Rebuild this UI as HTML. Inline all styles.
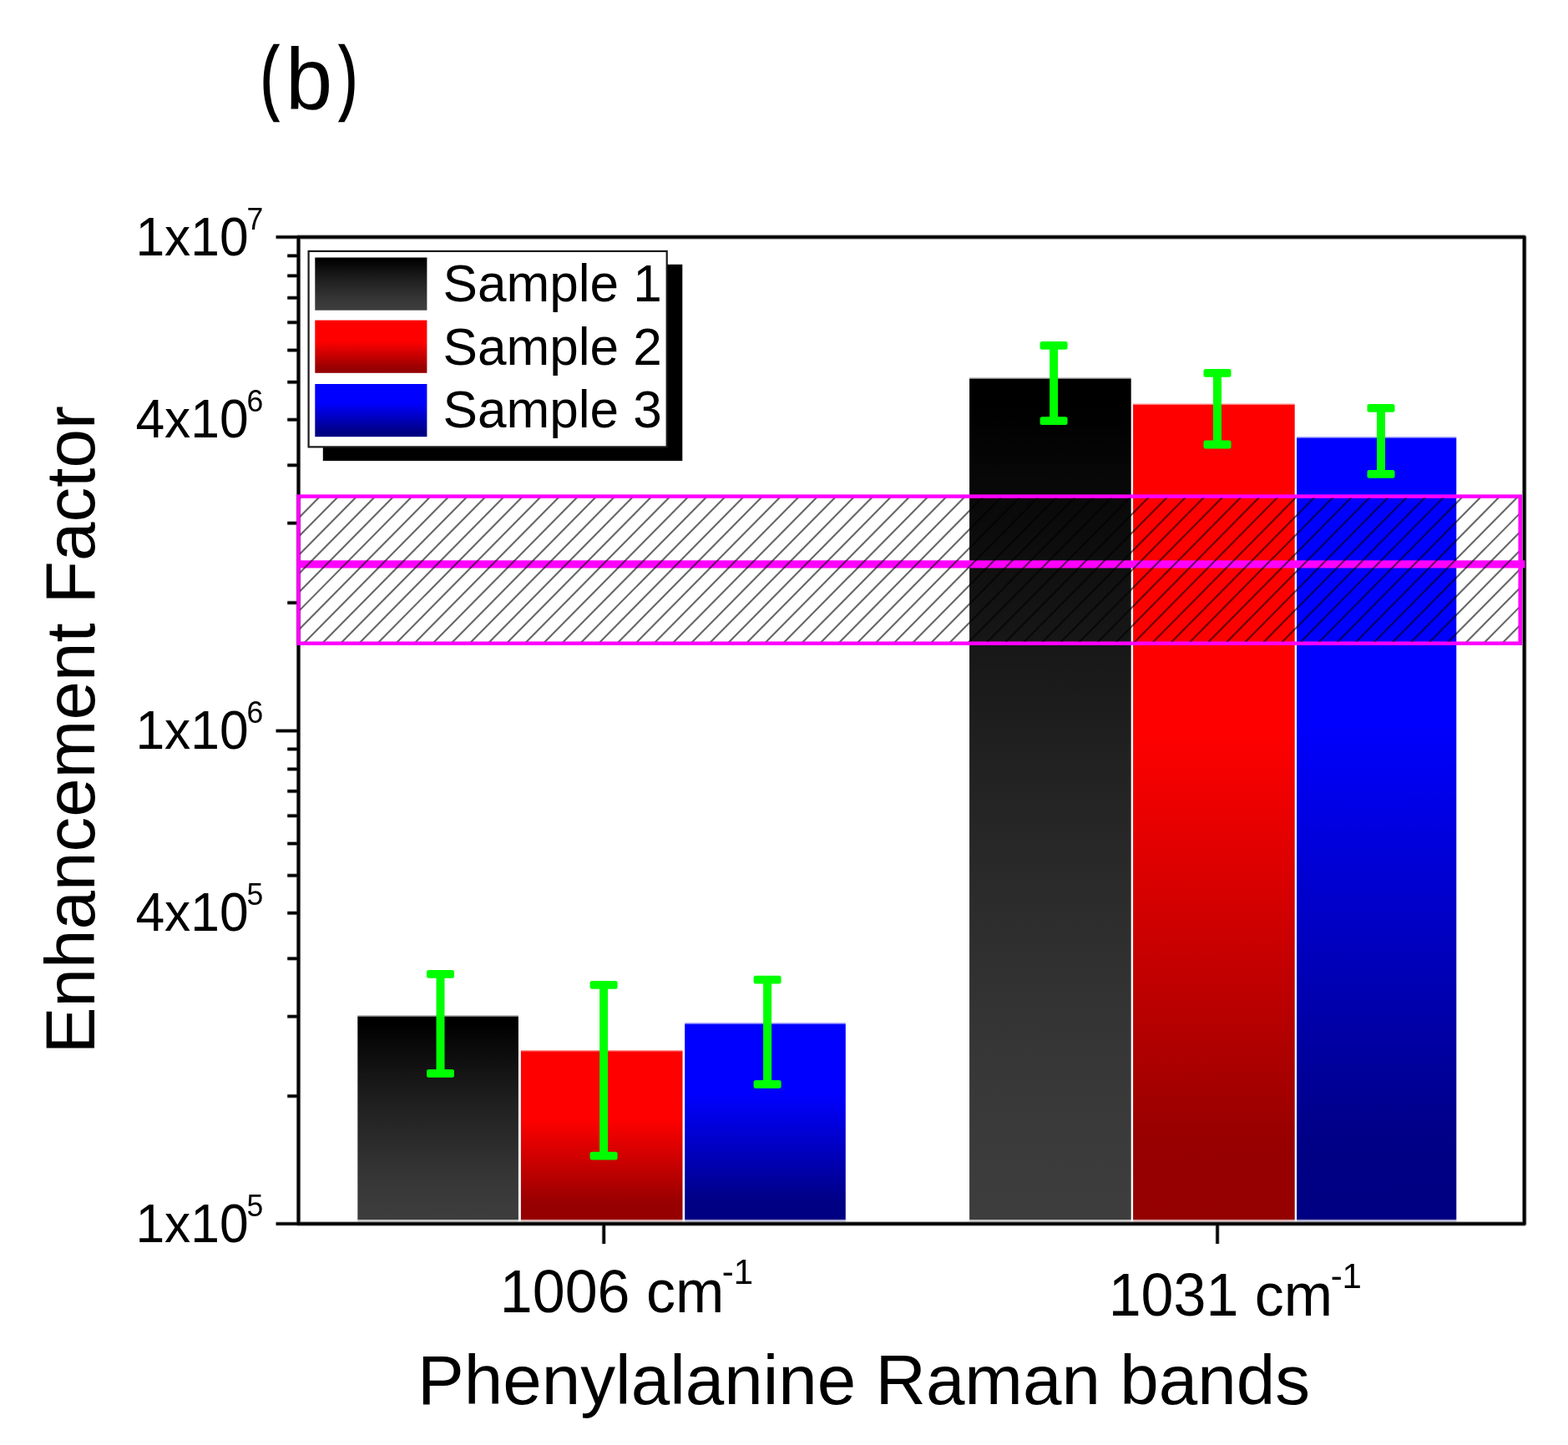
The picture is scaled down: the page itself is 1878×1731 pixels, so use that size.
<!DOCTYPE html>
<html lang="en"><head><meta charset="utf-8"><title>Enhancement Factor - Phenylalanine Raman bands</title>
<style>html,body{margin:0;padding:0;background:#fff;}body{width:1878px;height:1731px;overflow:hidden;}svg{display:block;}text{font-family:"Liberation Sans",Arial,Helvetica,sans-serif;fill:#000;}</style>
</head><body>
<svg width="1878" height="1731" viewBox="0 0 1878 1731">
<defs>
<linearGradient id="gk" x1="0" y1="0" x2="0" y2="1"><stop offset="0.000" stop-color="#000000"/><stop offset="0.035" stop-color="#000000"/><stop offset="0.115" stop-color="#070707"/><stop offset="0.196" stop-color="#0d0d0d"/><stop offset="0.276" stop-color="#141414"/><stop offset="0.357" stop-color="#1a1a1a"/><stop offset="0.437" stop-color="#202020"/><stop offset="0.517" stop-color="#252525"/><stop offset="0.598" stop-color="#2a2a2a"/><stop offset="0.678" stop-color="#2f2f2f"/><stop offset="0.759" stop-color="#343434"/><stop offset="0.839" stop-color="#383838"/><stop offset="0.920" stop-color="#3b3b3b"/><stop offset="1.000" stop-color="#3d3d3d"/></linearGradient>
<linearGradient id="gr" x1="0" y1="0" x2="0" y2="1"><stop offset="0" stop-color="#ff0000"/><stop offset="0.40" stop-color="#ff0000"/><stop offset="0.9" stop-color="#980000"/><stop offset="1" stop-color="#950000"/></linearGradient>
<linearGradient id="gb" x1="0" y1="0" x2="0" y2="1"><stop offset="0" stop-color="#0000ff"/><stop offset="0.36" stop-color="#0000ff"/><stop offset="0.9" stop-color="#000086"/><stop offset="1" stop-color="#000082"/></linearGradient>
<clipPath id="hc"><rect x="359.5" y="596.6" width="1459.2" height="172.1"/></clipPath>
</defs>
<rect x="0" y="0" width="1878" height="1731" fill="#fff"/>
<g id="bars">
<rect x="428.3" y="1217.7" width="192.6" height="243.3" fill="url(#gk)"/>
<rect x="428.3" y="1216.4" width="192.6" height="1.3" fill="#000" fill-opacity="0.45"/>
<rect x="428.3" y="1461.0" width="192.6" height="2.4" fill="#3d3d3d" fill-opacity="0.3"/>
<rect x="623.9" y="1259.3" width="193.6" height="201.7" fill="url(#gr)"/>
<rect x="623.9" y="1258.0" width="193.6" height="1.3" fill="#ff0000" fill-opacity="0.45"/>
<rect x="623.9" y="1461.0" width="193.6" height="2.4" fill="#950000" fill-opacity="0.3"/>
<rect x="820.2" y="1226.6" width="192.6" height="234.4" fill="url(#gb)"/>
<rect x="820.2" y="1225.3" width="192.6" height="1.3" fill="#0000ff" fill-opacity="0.45"/>
<rect x="820.2" y="1461.0" width="192.6" height="2.4" fill="#000082" fill-opacity="0.3"/>
<rect x="1161.1" y="453.8" width="193.6" height="1007.2" fill="url(#gk)"/>
<rect x="1161.1" y="452.5" width="193.6" height="1.3" fill="#000" fill-opacity="0.45"/>
<rect x="1161.1" y="1461.0" width="193.6" height="2.4" fill="#3d3d3d" fill-opacity="0.3"/>
<rect x="1357.1" y="484.8" width="193.6" height="976.2" fill="url(#gr)"/>
<rect x="1357.1" y="483.5" width="193.6" height="1.3" fill="#ff0000" fill-opacity="0.45"/>
<rect x="1357.1" y="1461.0" width="193.6" height="2.4" fill="#950000" fill-opacity="0.3"/>
<rect x="1553.1" y="524.6" width="191.2" height="936.4" fill="url(#gb)"/>
<rect x="1553.1" y="523.3" width="191.2" height="1.3" fill="#0000ff" fill-opacity="0.45"/>
<rect x="1553.1" y="1461.0" width="191.2" height="2.4" fill="#000082" fill-opacity="0.3"/>
</g>
<g id="errorbars" fill="#00ff00">
<rect x="522.5" y="1166.9" width="10" height="119.0"/>
<rect x="511.0" y="1162.0" width="33" height="9.8" rx="2.5"/>
<rect x="511.0" y="1281.0" width="33" height="9.8" rx="2.5"/>
<rect x="718.1" y="1179.9" width="10" height="204.8"/>
<rect x="706.6" y="1175.0" width="33" height="9.8" rx="2.5"/>
<rect x="706.6" y="1379.8" width="33" height="9.8" rx="2.5"/>
<rect x="914.1" y="1173.7" width="10" height="125.1"/>
<rect x="902.6" y="1168.8" width="33" height="9.8" rx="2.5"/>
<rect x="902.6" y="1293.9" width="33" height="9.8" rx="2.5"/>
<rect x="1257.1" y="413.9" width="10" height="90.2"/>
<rect x="1245.6" y="409.0" width="33" height="9.8" rx="2.5"/>
<rect x="1245.6" y="499.2" width="33" height="9.8" rx="2.5"/>
<rect x="1453.0" y="446.9" width="10" height="85.6"/>
<rect x="1441.5" y="442.0" width="33" height="9.8" rx="2.5"/>
<rect x="1441.5" y="527.6" width="33" height="9.8" rx="2.5"/>
<rect x="1649.0" y="488.8" width="10" height="79.1"/>
<rect x="1637.5" y="483.9" width="33" height="9.8" rx="2.5"/>
<rect x="1637.5" y="563.0" width="33" height="9.8" rx="2.5"/>
</g>
<g id="axes-soft" stroke="#777" stroke-opacity="0.8" stroke-width="4.8" fill="none">
<rect x="357.5" y="284.0" width="1468.2" height="1182.0" stroke-linejoin="round" stroke-width="5.4"/>
<line x1="330.6" y1="1466.00" x2="357.5" y2="1466.00"/>
<line x1="344.3" y1="1313.05" x2="357.5" y2="1313.05"/>
<line x1="344.3" y1="1217.69" x2="357.5" y2="1217.69"/>
<line x1="344.3" y1="1148.31" x2="357.5" y2="1148.31"/>
<line x1="344.3" y1="1093.75" x2="357.5" y2="1093.75"/>
<line x1="344.3" y1="1048.78" x2="357.5" y2="1048.78"/>
<line x1="344.3" y1="1010.53" x2="357.5" y2="1010.53"/>
<line x1="344.3" y1="977.25" x2="357.5" y2="977.25"/>
<line x1="344.3" y1="947.79" x2="357.5" y2="947.79"/>
<line x1="344.3" y1="921.36" x2="357.5" y2="921.36"/>
<line x1="344.3" y1="897.41" x2="357.5" y2="897.41"/>
<line x1="330.6" y1="875.50" x2="357.5" y2="875.50"/>
<line x1="344.3" y1="722.05" x2="357.5" y2="722.05"/>
<line x1="344.3" y1="626.69" x2="357.5" y2="626.69"/>
<line x1="344.3" y1="557.31" x2="357.5" y2="557.31"/>
<line x1="344.3" y1="502.75" x2="357.5" y2="502.75"/>
<line x1="344.3" y1="457.78" x2="357.5" y2="457.78"/>
<line x1="344.3" y1="419.53" x2="357.5" y2="419.53"/>
<line x1="344.3" y1="386.25" x2="357.5" y2="386.25"/>
<line x1="344.3" y1="356.79" x2="357.5" y2="356.79"/>
<line x1="344.3" y1="330.36" x2="357.5" y2="330.36"/>
<line x1="344.3" y1="306.41" x2="357.5" y2="306.41"/>
<line x1="330.6" y1="284.00" x2="357.5" y2="284.00"/>
<line x1="723.2" y1="1466.0" x2="723.2" y2="1490.0"/>
<line x1="1458.1" y1="1466.0" x2="1458.1" y2="1490.0"/>
</g>
<g id="axes" stroke="#000" stroke-width="3.2" fill="none">
<rect x="357.5" y="284.0" width="1468.2" height="1182.0" stroke-linejoin="round" stroke-width="3.6"/>
<line x1="330.6" y1="1466.00" x2="357.5" y2="1466.00"/>
<line x1="344.3" y1="1313.05" x2="357.5" y2="1313.05"/>
<line x1="344.3" y1="1217.69" x2="357.5" y2="1217.69"/>
<line x1="344.3" y1="1148.31" x2="357.5" y2="1148.31"/>
<line x1="344.3" y1="1093.75" x2="357.5" y2="1093.75"/>
<line x1="344.3" y1="1048.78" x2="357.5" y2="1048.78"/>
<line x1="344.3" y1="1010.53" x2="357.5" y2="1010.53"/>
<line x1="344.3" y1="977.25" x2="357.5" y2="977.25"/>
<line x1="344.3" y1="947.79" x2="357.5" y2="947.79"/>
<line x1="344.3" y1="921.36" x2="357.5" y2="921.36"/>
<line x1="344.3" y1="897.41" x2="357.5" y2="897.41"/>
<line x1="330.6" y1="875.50" x2="357.5" y2="875.50"/>
<line x1="344.3" y1="722.05" x2="357.5" y2="722.05"/>
<line x1="344.3" y1="626.69" x2="357.5" y2="626.69"/>
<line x1="344.3" y1="557.31" x2="357.5" y2="557.31"/>
<line x1="344.3" y1="502.75" x2="357.5" y2="502.75"/>
<line x1="344.3" y1="457.78" x2="357.5" y2="457.78"/>
<line x1="344.3" y1="419.53" x2="357.5" y2="419.53"/>
<line x1="344.3" y1="386.25" x2="357.5" y2="386.25"/>
<line x1="344.3" y1="356.79" x2="357.5" y2="356.79"/>
<line x1="344.3" y1="330.36" x2="357.5" y2="330.36"/>
<line x1="344.3" y1="306.41" x2="357.5" y2="306.41"/>
<line x1="330.6" y1="284.00" x2="357.5" y2="284.00"/>
<line x1="723.2" y1="1466.0" x2="723.2" y2="1490.0"/>
<line x1="1458.1" y1="1466.0" x2="1458.1" y2="1490.0"/>
</g>
<g id="band">
<rect x="357.5" y="594.6" width="1463.2" height="176.1" fill="none" stroke="#ff00ff" stroke-width="4.5"/>
<rect x="355.5" y="671.3" width="1471.0" height="9.2" fill="#ff00ff"/>
<g clip-path="url(#hc)" stroke="#000" stroke-width="2.1" stroke-opacity="0.6" fill="none">
<line x1="98.85" y1="770.7" x2="272.84" y2="594.6"/>
<line x1="120.93" y1="770.7" x2="294.92" y2="594.6"/>
<line x1="143.01" y1="770.7" x2="317.00" y2="594.6"/>
<line x1="165.09" y1="770.7" x2="339.08" y2="594.6"/>
<line x1="187.17" y1="770.7" x2="361.16" y2="594.6"/>
<line x1="209.25" y1="770.7" x2="383.24" y2="594.6"/>
<line x1="231.33" y1="770.7" x2="405.32" y2="594.6"/>
<line x1="253.41" y1="770.7" x2="427.40" y2="594.6"/>
<line x1="275.49" y1="770.7" x2="449.48" y2="594.6"/>
<line x1="297.57" y1="770.7" x2="471.56" y2="594.6"/>
<line x1="319.65" y1="770.7" x2="493.64" y2="594.6"/>
<line x1="341.73" y1="770.7" x2="515.72" y2="594.6"/>
<line x1="363.81" y1="770.7" x2="537.80" y2="594.6"/>
<line x1="385.89" y1="770.7" x2="559.88" y2="594.6"/>
<line x1="407.97" y1="770.7" x2="581.96" y2="594.6"/>
<line x1="430.05" y1="770.7" x2="604.04" y2="594.6"/>
<line x1="452.13" y1="770.7" x2="626.12" y2="594.6"/>
<line x1="474.21" y1="770.7" x2="648.20" y2="594.6"/>
<line x1="496.29" y1="770.7" x2="670.28" y2="594.6"/>
<line x1="518.37" y1="770.7" x2="692.36" y2="594.6"/>
<line x1="540.45" y1="770.7" x2="714.44" y2="594.6"/>
<line x1="562.53" y1="770.7" x2="736.52" y2="594.6"/>
<line x1="584.61" y1="770.7" x2="758.60" y2="594.6"/>
<line x1="606.69" y1="770.7" x2="780.68" y2="594.6"/>
<line x1="628.77" y1="770.7" x2="802.76" y2="594.6"/>
<line x1="650.85" y1="770.7" x2="824.84" y2="594.6"/>
<line x1="672.93" y1="770.7" x2="846.92" y2="594.6"/>
<line x1="695.01" y1="770.7" x2="869.00" y2="594.6"/>
<line x1="717.09" y1="770.7" x2="891.08" y2="594.6"/>
<line x1="739.17" y1="770.7" x2="913.16" y2="594.6"/>
<line x1="761.25" y1="770.7" x2="935.24" y2="594.6"/>
<line x1="783.33" y1="770.7" x2="957.32" y2="594.6"/>
<line x1="805.41" y1="770.7" x2="979.40" y2="594.6"/>
<line x1="827.49" y1="770.7" x2="1001.48" y2="594.6"/>
<line x1="849.57" y1="770.7" x2="1023.56" y2="594.6"/>
<line x1="871.65" y1="770.7" x2="1045.64" y2="594.6"/>
<line x1="893.73" y1="770.7" x2="1067.72" y2="594.6"/>
<line x1="915.81" y1="770.7" x2="1089.80" y2="594.6"/>
<line x1="937.89" y1="770.7" x2="1111.88" y2="594.6"/>
<line x1="959.97" y1="770.7" x2="1133.96" y2="594.6"/>
<line x1="982.05" y1="770.7" x2="1156.04" y2="594.6"/>
<line x1="1004.13" y1="770.7" x2="1178.12" y2="594.6"/>
<line x1="1026.21" y1="770.7" x2="1200.20" y2="594.6"/>
<line x1="1048.29" y1="770.7" x2="1222.28" y2="594.6"/>
<line x1="1070.37" y1="770.7" x2="1244.36" y2="594.6"/>
<line x1="1092.45" y1="770.7" x2="1266.44" y2="594.6"/>
<line x1="1114.53" y1="770.7" x2="1288.52" y2="594.6"/>
<line x1="1136.61" y1="770.7" x2="1310.60" y2="594.6"/>
<line x1="1158.69" y1="770.7" x2="1332.68" y2="594.6"/>
<line x1="1180.77" y1="770.7" x2="1354.76" y2="594.6"/>
<line x1="1202.85" y1="770.7" x2="1376.84" y2="594.6"/>
<line x1="1224.93" y1="770.7" x2="1398.92" y2="594.6"/>
<line x1="1247.01" y1="770.7" x2="1421.00" y2="594.6"/>
<line x1="1269.09" y1="770.7" x2="1443.08" y2="594.6"/>
<line x1="1291.17" y1="770.7" x2="1465.16" y2="594.6"/>
<line x1="1313.25" y1="770.7" x2="1487.24" y2="594.6"/>
<line x1="1335.33" y1="770.7" x2="1509.32" y2="594.6"/>
<line x1="1357.41" y1="770.7" x2="1531.40" y2="594.6"/>
<line x1="1379.49" y1="770.7" x2="1553.48" y2="594.6"/>
<line x1="1401.57" y1="770.7" x2="1575.56" y2="594.6"/>
<line x1="1423.65" y1="770.7" x2="1597.64" y2="594.6"/>
<line x1="1445.73" y1="770.7" x2="1619.72" y2="594.6"/>
<line x1="1467.81" y1="770.7" x2="1641.80" y2="594.6"/>
<line x1="1489.89" y1="770.7" x2="1663.88" y2="594.6"/>
<line x1="1511.97" y1="770.7" x2="1685.96" y2="594.6"/>
<line x1="1534.05" y1="770.7" x2="1708.04" y2="594.6"/>
<line x1="1556.13" y1="770.7" x2="1730.12" y2="594.6"/>
<line x1="1578.21" y1="770.7" x2="1752.20" y2="594.6"/>
<line x1="1600.29" y1="770.7" x2="1774.28" y2="594.6"/>
<line x1="1622.37" y1="770.7" x2="1796.36" y2="594.6"/>
<line x1="1644.45" y1="770.7" x2="1818.44" y2="594.6"/>
<line x1="1666.53" y1="770.7" x2="1840.52" y2="594.6"/>
<line x1="1688.61" y1="770.7" x2="1862.60" y2="594.6"/>
<line x1="1710.69" y1="770.7" x2="1884.68" y2="594.6"/>
<line x1="1732.77" y1="770.7" x2="1906.76" y2="594.6"/>
<line x1="1754.85" y1="770.7" x2="1928.84" y2="594.6"/>
<line x1="1776.93" y1="770.7" x2="1950.92" y2="594.6"/>
<line x1="1799.01" y1="770.7" x2="1973.00" y2="594.6"/>
<line x1="1821.09" y1="770.7" x2="1995.08" y2="594.6"/>
</g>
</g>
<g id="ylabels" font-size="62.4">
<text transform="translate(162.4,305.9) scale(1,1.04)">1x10<tspan font-size="35.6" dx="-2.2" dy="-29.8">7</tspan></text>
<text transform="translate(162.4,524.2) scale(1,1.04)">4x10<tspan font-size="35.6" dx="-2.2" dy="-29.8">6</tspan></text>
<text transform="translate(162.4,896.9) scale(1,1.04)">1x10<tspan font-size="35.6" dx="-2.2" dy="-29.8">6</tspan></text>
<text transform="translate(162.4,1115.2) scale(1,1.04)">4x10<tspan font-size="35.6" dx="-2.2" dy="-29.8">5</tspan></text>
<text transform="translate(162.4,1487.9) scale(1,1.04)">1x10<tspan font-size="35.6" dx="-2.2" dy="-29.8">5</tspan></text>
</g>
<g id="xlabels" font-size="70">
<text transform="translate(598.8,1571.6) scale(1,1.03)">1006 cm<tspan font-size="42" dx="-2.5" dy="-32.3">-1</tspan></text>
<text transform="translate(1327.7,1575.9) scale(1,1.03)">1031 cm<tspan font-size="42" dx="-2.5" dy="-32.3">-1</tspan></text>
</g>
<text id="xtitle" x="500.1" y="1682.3" font-size="83.6">Phenylalanine Raman bands</text>
<text id="ytitle" transform="translate(113.0,1262.2) rotate(-90)" font-size="83.6">Enhancement Factor</text>
<text id="panel" y="130" font-size="103"><tspan x="312.3" dy="-4.8" font-size="97.9" textLength="21.6" lengthAdjust="spacingAndGlyphs" stroke="#000" stroke-width="2.4">(</tspan><tspan x="341.9" dy="4.8" textLength="56.2" lengthAdjust="spacingAndGlyphs">b</tspan><tspan x="406.2" dy="-4.8" font-size="97.9" textLength="21.6" lengthAdjust="spacingAndGlyphs" stroke="#000" stroke-width="2.4">)</tspan></text>
<g id="legend">
<rect x="386.8" y="316.8" width="430.5" height="235.2" fill="#000"/>
<rect x="369.6" y="300.9" width="429.1" height="234.5" fill="#fff" stroke="#1a1a1a" stroke-width="2.2"/>
<rect x="377.3" y="308.5" width="134.1" height="63.2" fill="url(#gk)"/>
<rect x="377.3" y="383.6" width="134.1" height="63.2" fill="url(#gr)"/>
<rect x="377.3" y="460.0" width="134.1" height="63.2" fill="url(#gb)"/>
<text x="530.5" y="360.6" font-size="62.1">Sample 1</text>
<text x="530.5" y="436.5" font-size="62.1">Sample 2</text>
<text x="530.5" y="512.4" font-size="62.1">Sample 3</text>
</g>
</svg>
</body></html>
